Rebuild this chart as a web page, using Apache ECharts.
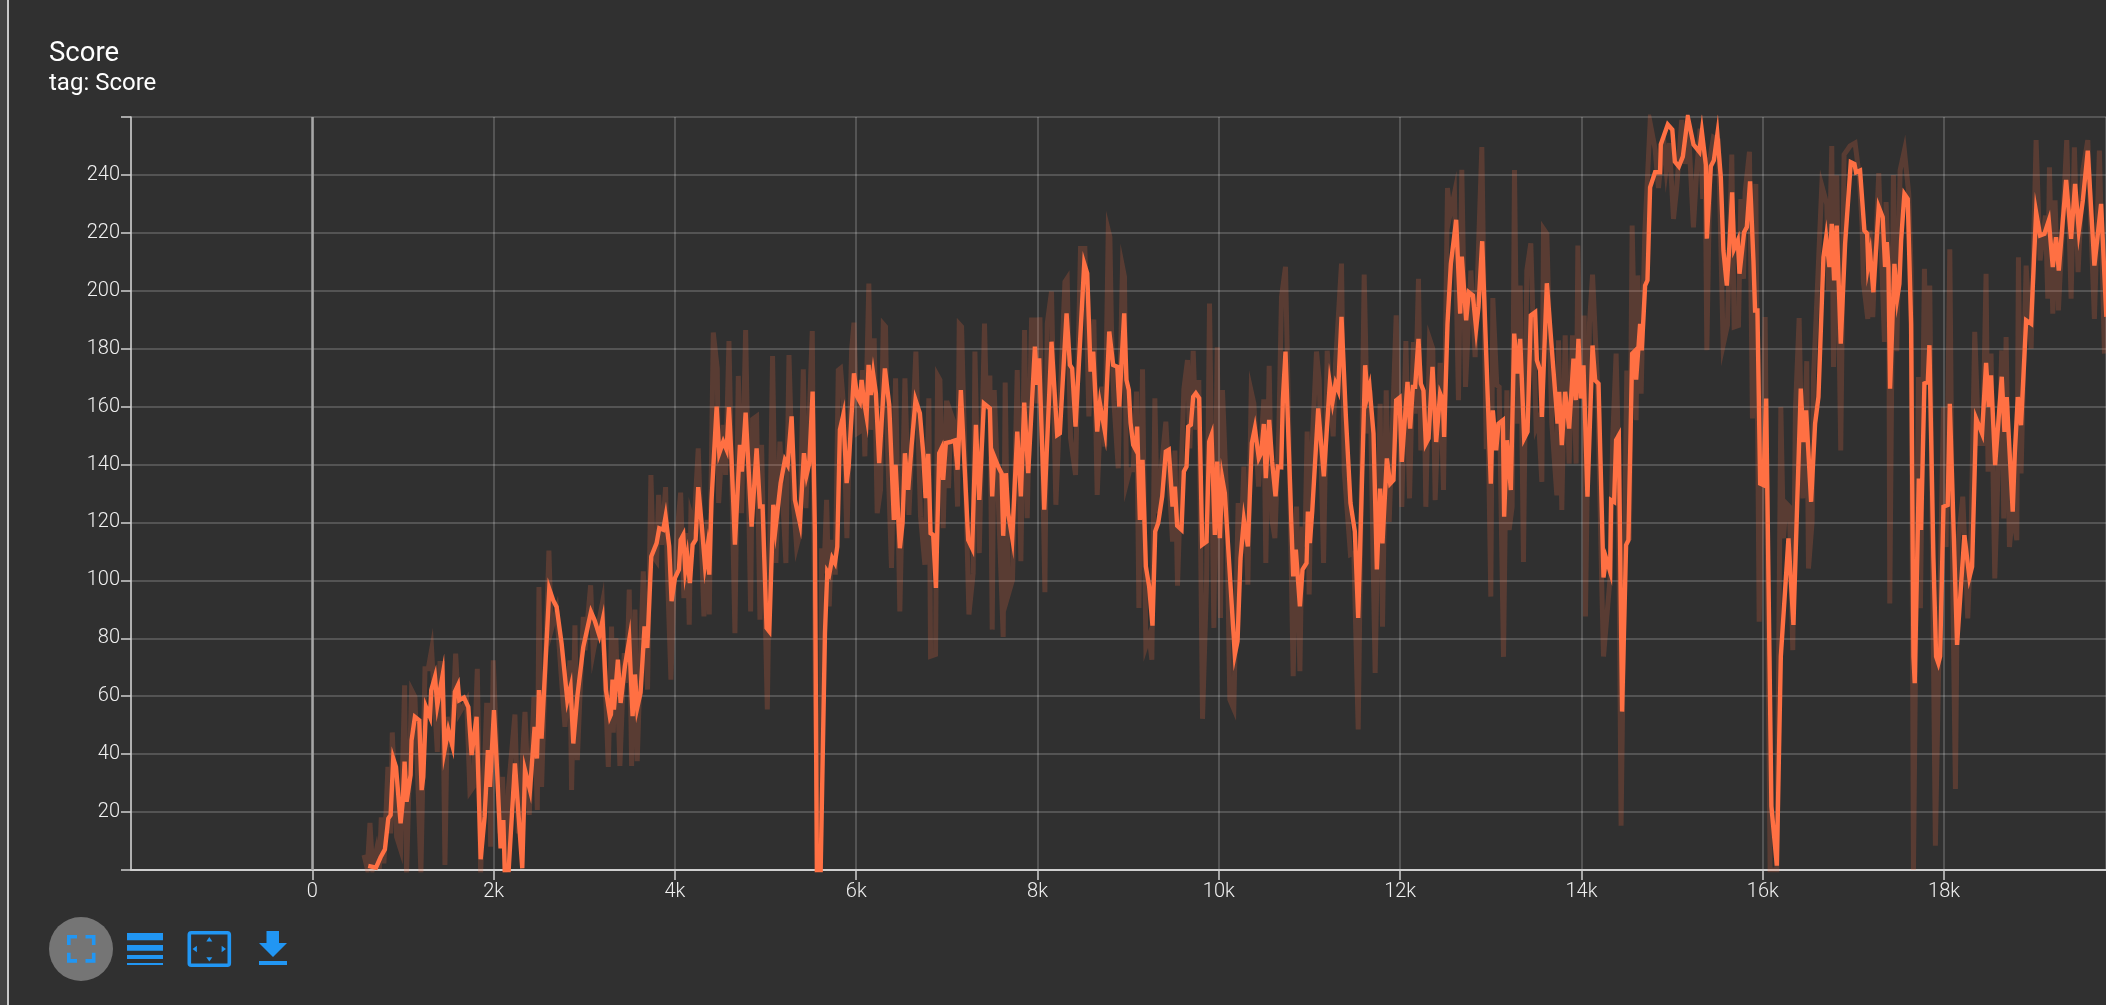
<!DOCTYPE html>
<html><head><meta charset="utf-8">
<style>html,body{margin:0;padding:0;background:#303030;overflow:hidden}#c{width:2106px;height:1005px}</style>
<script src="https://cdn.jsdelivr.net/npm/echarts@6/dist/echarts.min.js"></script>
</head><body><div id="c"></div>
<script>
const titleText = 'Score';
const subtitleText = 'tag: Score';
const smoothSteps = [617,702,753,801,838,864,893,923,974,996,1018,1040,1084,1095,1132,1180,1206,1224,1254,1298,1312,1353,1379,1437,1459,1500,1544,1573,1607,1621,1673,1721,1757,1812,1857,1901,1937,1960,2004,2040,2077,2107,2125,2162,2235,2316,2346,2401,2452,2478,2500,2529,2614,2658,2695,2750,2813,2849,2879,2923,2989,3074,3114,3166,3202,3239,3283,
3294,3312,3327,3371,3401,3448,3496,3533,3559,3584,3621,3665,3695,3739,3798,3827,3871,3897,3937,3963,4000,4044,4063,4092,4114,4136,4165,4195,4228,4257,4294,4331,4357,4379,4404,4460,4489,4533,4570,4596,4625,4662,4680,4717,4739,4780,4846,4901,4938,4967,5011,5041,5085,5110,5166,5213,5243,5287,5324,5379,5423,5452,5482,5519,5544,5566,5607,5655,5680,5702,5735,5765,5791,5820,5857,5894,5916,5975,6011,
6040,6059,6084,6114,6136,6161,6187,6217,6253,6316,6364,6415,6434,6481,6511,6537,6573,6610,6654,6702,6739,6765,6794,6820,6849,6879,6915,6941,6959,6989,7051,7088,7118,7154,7235,7279,7320,7357,7408,7474,7500,7522,7566,7603,7621,7651,7676,7721,7776,7816,7853,7897,7971,7996,8018,8074,8154,8217,8246,8320,8357,8382,8419,8515,8548,8585,8614,8658,8688,8743,8791,
8809,8834,8879,8901,8926,8956,8981,9007,9026,9055,9084,9099,9129,9158,9195,9231,9268,9287,9298,9331,9375,9415,9448,9489,9515,9540,9588,9614,9643,9662,9691,9717,9746,9783,9816,9864,9893,9919,9956,9982,10011,10037,10066,10176,10206,10239,10276,10320,10364,10397,10441,10467,10496,10518,10555,10588,10625,10651,10688,10706,10735,10820,10849,10894,10923,10967,10982,11004,11030,11096,11158,11224,11254,11287,11316,11353,11401,11452,11500,11537,
11559,11614,11640,11662,11706,11743,11761,11779,11805,11853,11890,11926,11956,11993,12018,12037,12081,12110,12140,12165,12202,12228,12257,12283,12313,12357,12397,12441,12471,12485,12522,12559,12618,12662,12680,12728,12757,12802,12838,12864,12905,12949,13000,13022,13059,13085,13133,13147,13177,13221,13258,13294,13324,13368,13405,13441,13489,13508,13544,13563,13618,13691,13736,13754,13783,13820,13864,13912,13938,13967,13993,14022,14066,14122,14151,14188,14243,14272,14316,
14327,14360,14382,14412,14448,14492,14518,14559,14595,14603,14647,14665,14702,14728,14757,14812,14867,14875,14952,15002,15030,15074,15118,15173,15236,15300,15328,15372,15383,15427,15460,15499,15537,15566,15603,15632,15662,15684,15724,15743,15794,15824,15860,15897,15915,15941,15971,16007,16037,16074,16095,16155,16199,16283,16338,16419,16449,16478,16533,16577,16614,16669,16699,16735,16761,16787,16816,16860,16908,16971,17011,
17029,17073,17121,17151,17162,17184,17220,17279,17323,17349,17368,17386,17404,17452,17482,17507,17526,17562,17599,17636,17662,17676,17721,17746,17783,17820,17838,17882,17912,17937,17956,17993,18040,18063,18114,18143,18176,18224,18279,18309,18353,18419,18463,18493,18518,18563,18636,18666,18691,18757,18780,18813,18849,18905,18960,19015,19059,19107,19155,19199,19235,19265,19346,19401,19445,19486,19530,19585,19658,19732,19790];
const smoothValues = [1.4,.8,4.4,7.1,17.8,19,38.5,35.6,16.1,23,37.4,23.6,32.8,44.8,52.9,51.7,27.6,32.2,56.3,52.9,62.1,66.7,56.9,67.2,41.4,48.3,43.1,61.5,63.8,58.6,59.5,56.3,39.7,52.9,3.7,18.4,41.4,28.7,55.2,33.3,7.5,17.2,-2,-2,36.8,.6,34.5,27.6,49.4,38.5,62.1,45.4,97.1,93.1,90.8,78.2,58.6,63.2,43.7,59.8,77,89.1,86.2,81,86.2,62.1,52.9,
53.7,65.7,55.4,72.6,57.7,70.3,79.5,53.1,67.5,56,61.2,84.1,76.7,108.3,112.9,118,117.5,122.1,111.7,92.8,100.8,103.7,114,115.7,103.7,108.3,99.1,112.3,114,132.2,119.8,105.4,111.1,102,127.8,160,143.9,147.9,145.1,159.8,141.6,112.3,111.7,146.8,137.6,157.9,118.6,145.6,125.5,125.5,83.6,82.4,126.1,118,133.6,141.6,139.9,156.6,127.8,119.8,143.9,136.4,140.5,165.2,116.3,-1,-1,81.8,103.1,102,107.7,106,111.7,152,157.1,133.6,139.3,171.5,163.4,
161.7,169.2,162.3,156.6,174.4,164,171.3,164.6,140.5,173.2,160.6,120.9,139.9,111.1,119.8,143.9,131.3,146.2,162.3,157.7,143.9,128.4,143.7,116.3,115.7,97.4,143.9,145.6,134.7,147.4,147.9,148.3,138.2,165.7,114,111.1,153.7,127.8,161.1,159.4,129,142.8,139.3,137,115.4,137,123.2,114.6,151.4,129,161.4,137,180.7,167.5,176.7,124.4,182.4,150.2,150.8,192.2,174.4,173.2,153.1,209.4,206,172.1,179,151.4,161.1,151.4,185.9,
185.9,174.4,173.8,160,174.9,192.2,169.2,165.7,154.3,146.8,145.1,153.1,120.9,141.6,104.8,97.9,84.4,84.4,116.9,119.8,129,144.5,145.1,125.5,132.4,118.9,117.5,137.6,139.3,153.1,153.7,163.4,164.6,162.9,112.3,113.4,147.9,150.2,115.7,141,114.6,135.3,130.1,74.4,79,107.7,120.9,111.7,147.4,152.5,142.2,143.9,154,135.3,155.4,141,129,139.3,139.1,162.3,179,101.4,110.6,91,103.7,106,123.8,112.9,123.8,159.4,135.9,168,161.7,168,165.7,191,156.6,126.7,116.9,87,
87.5,174.3,163.9,166.8,150.7,103.8,103.8,131.7,112.8,142.1,133.4,134.6,162.2,163.1,140.9,141.5,168.5,152.4,166.8,166.8,183.4,167.9,165.6,147.2,149,173.7,147.8,164.5,162.2,149.5,188.6,209.3,224.5,192.1,211.8,189.8,199.5,198.4,186.9,194.4,217.1,178.3,133.4,158.7,144.9,154.1,155.3,122,148.4,131.2,185.2,171.4,183.4,149,151.3,191.5,192.6,176,172.5,156.4,202.6,172.5,154.1,165.1,146.7,165.1,152.4,176.6,162.2,183.4,162.8,174.3,128.9,181.1,169.1,167.9,101,107.6,103,
127.7,127.1,148.4,150.1,54.7,112.2,113.9,178.3,179.4,169.3,188.6,179.4,201.8,203.6,235.7,240.9,240.9,250.5,257.4,255.6,244.6,242.9,246.3,260,250.5,248,255,243.5,218,243,245,254,239.2,213.9,201.8,215.6,234,214.5,217.4,205.9,220.2,222,237.8,210.4,193.2,193.2,133.4,132.9,162.8,73.7,22,1.5,73.7,114.5,84.6,166.2,147.8,158.7,127.1,154.1,163.3,211.6,218.5,208.2,223.1,203.6,222.5,181.7,216.2,244.4,243.8,
240.9,241.5,220.8,219.7,208.8,212.8,199.5,228.9,225.4,208.2,216.8,208.2,166.2,209.3,197.2,202.4,217.4,233.4,231.7,188.6,73.7,64.5,135.2,117.4,168,168.5,181.2,108.2,73.7,71.4,73.7,125.4,126,161,108.2,77.7,93.2,115.6,101,104.7,155.9,150.7,175.1,159.9,170.8,139.8,170.3,151.3,163.3,123.7,143.8,163.3,153.6,189.8,188.6,227.1,219.1,219.7,224.3,208.2,218.5,207,238.3,217.9,236.9,220.8,231.1,248.4,208.7,230,191];
const rawSteps = [570,606,636,665,709,739,761,790,834,864,882,904,930,974,1018,1040,1095,1132,1198,1243,1279,1316,1379,1408,1437,1463,1489,1537,1581,1618,1702,1739,1776,1820,1857,1923,1952,1967,1996,2070,2099,2125,2162,2235,2272,2346,2393,2445,2482,2500,2529,2610,2636,2695,2739,2787,2842,2860,2897,2923,2989,3007,3070,3099,3199,3265,
3283,3301,3320,3349,3393,3441,3467,3496,3522,3559,3584,3651,3698,3735,3761,3798,3820,3853,3897,3915,3956,4000,4063,4099,4136,4158,4176,4210,4257,4320,4357,4379,4423,4467,4482,4533,4559,4596,4662,4699,4735,4780,4835,4857,4901,4938,4956,5019,5077,5114,5158,5224,5258,5305,5342,5379,5416,5445,5515,5548,5581,5607,5618,5644,5673,5702,5728,5769,5802,5827,5857,5897,5949,5975,6011,
6040,6070,6095,6139,6161,6198,6231,6268,6298,6323,6342,6389,6434,6481,6537,6581,6658,6709,6757,6801,6820,6875,6897,6923,6959,6996,7018,7044,7081,7118,7136,7162,7243,7290,7309,7357,7415,7437,7474,7500,7522,7555,7621,7643,7676,7724,7776,7816,7857,7886,7934,7971,7996,8026,8081,8107,8154,8202,8302,8327,8364,8419,8474,8522,8566,8621,8658,8706,8743,8780,
8798,8816,8842,8890,8937,8959,8981,9018,9055,9092,9118,9158,9195,9231,9261,9294,9320,9357,9415,9489,9515,9544,9614,9654,9680,9717,9746,9779,9820,9864,9897,9945,9967,9982,10018,10040,10085,10121,10165,10213,10239,10276,10320,10357,10386,10438,10496,10518,10555,10585,10618,10662,10691,10735,10772,10820,10857,10894,10919,10949,10974,10996,11022,11077,11107,11155,11195,11261,11287,11353,11383,11452,11489,11537,
11603,11640,11669,11724,11779,11805,11846,11879,11956,12018,12063,12103,12147,12165,12202,12228,12265,12283,12324,12360,12386,12441,12478,12522,12552,12599,12643,12680,12721,12780,12827,12853,12901,12949,12974,13000,13022,13066,13092,13140,13177,13202,13235,13261,13294,13324,13360,13397,13441,13500,13526,13563,13581,13618,13673,13728,13747,13783,13820,13864,13901,13941,13960,13993,14030,14044,14088,14122,14177,14225,14243,
14316,14345,14382,14404,14437,14500,14529,14559,14603,14621,14658,14698,14757,14812,14849,14904,14934,14970,15015,15051,15106,15143,15180,15235,15272,15309,15338,15364,15383,15419,15456,15511,15563,15610,15658,15684,15732,15758,15787,15805,15853,15886,15923,15960,16026,16081,16155,16199,16228,16257,16294,16331,16360,16401,16441,16485,16504,16544,16559,16651,16706,16725,16761,16780,16816,16860,16897,16963,17018,
17066,17096,17110,17158,17184,17213,17279,17342,17360,17390,17401,17441,17478,17515,17562,17610,17636,17662,17717,17739,17783,17809,17842,17904,17993,18022,18063,18096,18125,18151,18206,18261,18298,18338,18382,18427,18463,18485,18518,18559,18636,18658,18684,18721,18757,18802,18820,18849,18905,18960,19015,19059,19118,19144,19162,19199,19224,19261,19353,19401,19437,19478,19530,19585,19658,19713,19769];
const rawValues = [5.2,.5,16.3,.5,7.1,.5,18.2,2.3,35.6,12.6,47.5,47.1,11.5,7.1,63.8,-1,62.1,59.8,-1,69.5,69.5,76.1,40.8,71.3,71.3,1.7,52.9,42.5,74.7,54,58.6,27,28.7,69.5,-1,56.9,56.9,8,72.4,12.6,32.2,-1,27.6,53.7,12.6,54.6,19,59.8,20.7,97.7,28.7,110.3,82.8,89.7,70.1,49.4,72.4,27.6,84.5,37.9,87.4,75.9,98.3,75.3,92,35.6,
35.3,84.1,47.4,80.1,35.9,74.9,64.6,96.8,35.9,89.9,37.6,103.1,62.3,136.4,108.3,106.6,129.5,112.3,132.2,104.8,65.7,107.7,130.3,93.9,116.3,84.7,122.6,118.6,145.6,87.6,120.9,88.2,185.6,173.2,126.7,153.7,136.4,182.6,81.8,170.6,123.2,186.4,89.3,155.6,156.6,86.4,146.8,55.4,177.5,106,147.9,106,177.8,127.8,111.7,116.3,172.9,124.9,186.1,63.4,-.3,47.4,111.1,102.5,127.8,91,114,102,172.6,173.2,161.7,114.6,179.5,189,150.8,
151.4,172.6,142.8,202.5,152,183.6,123.2,131.3,188.5,187.6,149.7,104.3,169.8,89.3,169.8,122.6,179,122.1,105.4,162.9,73.8,74.4,170.7,169.2,118,162.1,131.8,157.7,154.3,125.5,188.5,187.6,88.2,102.5,179,109.4,188.7,158.9,170.7,83,165.7,138.2,80.5,168.3,95,100.2,172.6,106.6,186.4,121.5,189.9,189.9,161.1,190.8,95.9,188.7,199.7,126.1,203.1,204.3,149.1,136.4,214.6,214.6,156.6,190.1,129.5,166.9,146.2,220.9,
218.6,186.4,161.7,138.7,208.3,204.8,133.6,138.2,138.2,165.2,90.5,172.9,77.2,80.7,72.6,162.9,123.2,135.9,154.8,113.4,144.8,98.2,166,176.1,145.6,179.3,152,169.2,52.2,99.1,195.6,83.6,83.6,180.5,87,165.7,129,58.9,55.6,126.7,107.1,139.3,98.5,165.2,161.1,132.4,162.5,106,174.1,120.9,114.6,152.5,197.9,208.3,152,66.9,125.5,68.6,118.6,111.7,151.4,95.1,141.6,179,169.2,106,179.3,149.7,174.9,209.4,137.6,108.9,109.4,48.5,
205.6,150.7,165.6,68,161,84,165.6,120.2,191.5,125.4,182.6,128.3,182.3,157.6,204.1,144.9,165.6,125.4,183.4,180,127.7,175.1,131.2,235.5,226.6,233.7,162.2,241.8,166.8,207,177.1,204.7,249.6,146.1,146.1,94.4,197.5,167.4,166.8,73.6,165.6,117.4,125.4,241.7,154.1,201.8,106.4,207,216.4,153,155.3,134,221.4,219.7,154.1,129.4,182.9,124.3,184.6,140.3,184.6,140.3,215.6,163.3,191.5,87.5,188.6,205.6,167.9,96.7,73.7,
101,149.5,178.3,149.5,15.3,172.5,113.9,222.5,155.3,205.3,164.5,219.7,258,249,235.5,253,242,251,224.8,235.7,259,243.8,256,221.9,242,256,231.7,246,179.5,246,253,252,181.2,188,247,187.5,188,231.7,204.1,234,248,155.9,236.9,85.7,190.9,0,0,159.9,114.5,126.6,125.4,75.9,158.8,190.6,128.3,175.7,104.1,120.2,169.6,236.3,229.9,200,250,173.7,239.9,144.9,247,250,251,
239.2,222,203,190.3,220.8,190.9,240.6,182.3,230.6,205.9,92,240,179.1,241.6,248.4,233.4,207,0,170.2,90.4,207.6,168,201.8,8.4,159.8,111.5,214.3,97.7,28,112.2,128.9,86.9,116.2,185.8,147.3,147.3,205.9,137.5,178.3,100.7,179.4,121.4,184,111.5,124.2,113.9,211.6,136.9,208.7,180,252,210.5,226,197.3,242.6,192.1,231.2,193.2,252,197.3,249.5,206.4,241.5,252,190.3,248.4,178.3];

const zip = (a, b) => a.slice(0, Math.min(a.length, b.length)).map((s, i) => [s, b[i]]);
const FONT = 'Roboto, sans-serif';
const ORANGE = '#ff7043', BLUE = '#2196f3', AXIS = '#cfcfcf', GRID = 'rgba(255,255,255,0.24)';
const chart = echarts.init(document.getElementById('c'), null, {renderer: 'canvas'});
const blue = {fill: BLUE};
const poly = pts => ({type: 'polygon', shape: {points: pts}, style: blue});
chart.setOption({
  animation: false,
  backgroundColor: '#303030',
  title: [
    {text: titleText, left: 49, top: 40, padding: 0, textStyle: {fontFamily: FONT, fontSize: 27.5, fontWeight: 400, color: '#fff'}},
    {text: subtitleText, left: 49, top: 72, padding: 0, textStyle: {fontFamily: FONT, fontSize: 24, fontWeight: 400, color: '#fff'}}
  ],
  grid: {left: 131, right: 0, top: 117, bottom: 135, containLabel: false},
  xAxis: {
    type: 'value', min: -2000, max: 19786, interval: 2000,
    axisLine: {onZero: false, lineStyle: {color: AXIS, width: 2}},
    axisTick: {length: 10, lineStyle: {color: AXIS, width: 1.5}},
    axisLabel: {margin: 12, fontFamily: FONT, fontSize: 20, fontWeight: 300, color: '#f0f0f0',
      showMinLabel: false, showMaxLabel: false,
      formatter: v => v < 0 || v > 19000 ? '' : (v === 0 ? '0' : (v / 1000) + 'k')},
    splitLine: {show: true, lineStyle: {color: GRID, width: 1.5}}
  },
  yAxis: {
    type: 'value', min: 0, max: 260, interval: 20,
    axisLine: {show: true, onZero: false, lineStyle: {color: AXIS, width: 1.5}},
    axisTick: {show: true, length: 10, lineStyle: {color: AXIS, width: 1.5}},
    axisLabel: {margin: 11, fontFamily: FONT, fontSize: 20, fontWeight: 300, color: '#f0f0f0',
      formatter: v => (v === 0 || v === 260) ? '' : String(v)},
    splitLine: {show: true, lineStyle: {color: GRID, width: 1.5}}
  },
  series: [
    {type: 'line', name: 'raw', data: zip(rawSteps, rawValues), showSymbol: false, symbol: 'none', silent: true, z: 2,
      lineStyle: {color: ORANGE, width: 5, opacity: 0.2, join: 'miter'},
      markLine: {silent: true, symbol: 'none', label: {show: false}, animation: false,
        lineStyle: {color: '#a6a6a6', width: 2.5, type: 'solid'}, data: [{xAxis: 0}]}},
    {type: 'line', name: 'smoothed', data: zip(smoothSteps, smoothValues), showSymbol: false, symbol: 'none', silent: true, z: 3,
      lineStyle: {color: ORANGE, width: 4.4, join: 'miter'}}
  ],
  graphic: [
    {type: 'rect', shape: {x: 0, y: 0, width: 7, height: 1005}, style: {fill: '#424242'}},
    {type: 'rect', shape: {x: 7, y: 0, width: 2, height: 1005}, style: {fill: '#c8c8c8'}},
    {type: 'circle', shape: {cx: 81, cy: 949, r: 32}, style: {fill: '#757575'}},
    poly([[67,935],[77,935],[77,938.6],[70.6,938.6],[70.6,945],[67,945]]),
    poly([[85.5,935],[95.5,935],[95.5,945],[91.9,945],[91.9,938.6],[85.5,938.6]]),
    poly([[67,952.7],[70.6,952.7],[70.6,959.1],[77,959.1],[77,962.7],[67,962.7]]),
    poly([[91.9,952.7],[95.5,952.7],[95.5,962.7],[85.5,962.7],[85.5,959.1],[91.9,959.1]]),
    {type: 'rect', shape: {x: 127, y: 933, width: 36, height: 7.3}, style: blue},
    {type: 'rect', shape: {x: 127, y: 945, width: 36, height: 5.7}, style: blue},
    {type: 'rect', shape: {x: 127, y: 955, width: 36, height: 4}, style: blue},
    {type: 'rect', shape: {x: 127, y: 963, width: 36, height: 2}, style: blue},
    {type: 'rect', shape: {x: 189.3, y: 932.8, width: 40, height: 32.4, r: 2}, style: {fill: 'none', stroke: BLUE, lineWidth: 3.6}},
    poly([[209.3,937],[212.3,941.4],[206.3,941.4]]),
    poly([[209.3,961.6],[212.3,957.2],[206.3,957.2]]),
    poly([[192.5,949],[196.9,945.8],[196.9,952.2]]),
    poly([[226,949],[221.6,945.8],[221.6,952.2]]),
    poly([[266.5,931],[279,931],[279,943],[287,943],[273,957],[259,943],[266.5,943]]),
    {type: 'rect', shape: {x: 259, y: 961, width: 28, height: 4}, style: blue}
  ]
});
</script></body></html>
